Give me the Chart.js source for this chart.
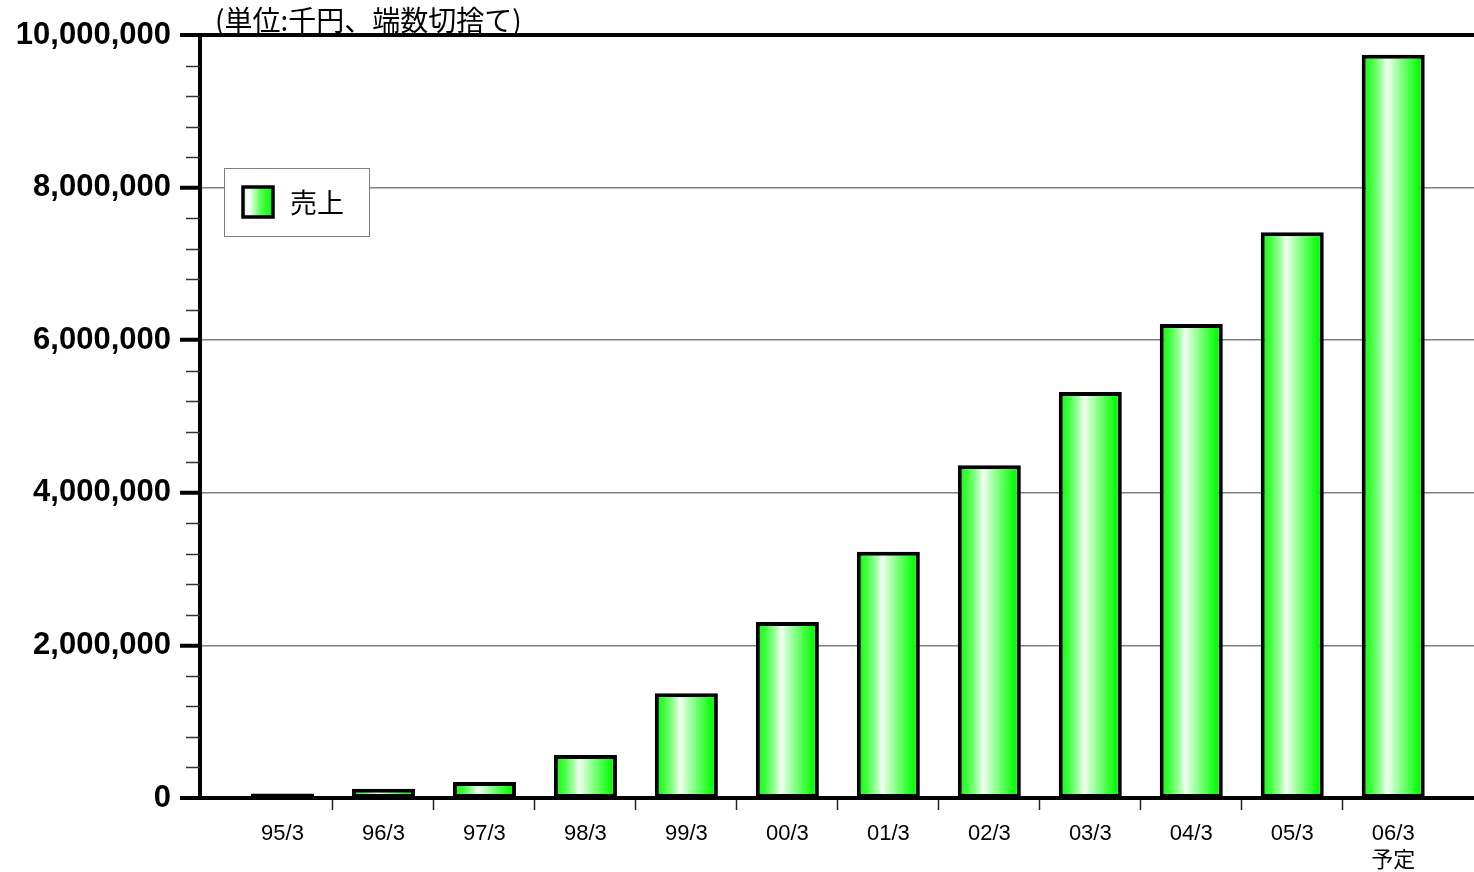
<!DOCTYPE html>
<html>
<head>
<meta charset="utf-8">
<script src="https://cdn.jsdelivr.net/npm/chart.js@4"></script>
<style>
  html, body { margin: 0; padding: 0; background: #fff; }
  #wrap { width: 1474px; height: 872px; position: relative; }
</style>
</head>
<body>
<div id="wrap"><canvas id="salesChart"></canvas></div>
<script>
// data
const categories = ['95/3', '96/3', '97/3', '98/3', '99/3', '00/3', '01/3', '02/3', '03/3', '04/3', '05/3', ['06/3', '予定']];
const sales = [60000, 120000, 210000, 565000, 1372000, 2306000, 3226000, 4361000, 5321000, 6211000, 7415000, 9741000];
const seriesLabel = '売上';
const unitNote = '(単位:千円、端数切捨て)';
const yMax = 10000000;
const majorStep = 2000000;
const minorStep = 400000;

const barPct = 0.624;
const numFont = "'Liberation Sans', Arial, 'Noto Sans CJK JP', sans-serif";
const jpFont = "'Noto Sans CJK JP', 'Liberation Sans', sans-serif";

// green tube look, white highlight a bit left of centre
function tubeGradient(g) {
    g.addColorStop(0, '#00ff00');
    g.addColorStop(0.15, '#3cff3c');
    g.addColorStop(0.32, '#a8ffa8');
    g.addColorStop(0.4, '#f6fff6');
    g.addColorStop(0.5, '#c0ffc0');
    g.addColorStop(0.72, '#58ff58');
    g.addColorStop(0.9, '#08ff08');
    g.addColorStop(1, '#00ff00');
    return g;
}

function barFill(ctx) {
    const chart = ctx.chart;
    const xs = chart.scales.x;
    if (ctx.type !== 'data' || !xs || !chart.chartArea) return '#00ff00';
    const cx = xs.getPixelForValue(ctx.dataIndex);
    const half = (xs.getPixelForValue(1) - xs.getPixelForValue(0)) * barPct / 2;
    return tubeGradient(chart.ctx.createLinearGradient(cx - half, 0, cx + half, 0));
}

// minor y ticks, unit note and the boxed legend inside the plot
const extras = {
    id: 'extras',
    afterDraw(chart) {
        const c = chart.ctx;
        const area = chart.chartArea;
        const ys = chart.scales.y;
        c.save();

        c.strokeStyle = '#333';
        c.lineWidth = 1.5;
        for (let v = minorStep; v < yMax; v += minorStep) {
            if (v % majorStep === 0) continue;
            const py = Math.round(ys.getPixelForValue(v)) + 0.5;
            c.beginPath();
            c.moveTo(area.left - 14, py);
            c.lineTo(area.left, py);
            c.stroke();
        }

        c.fillStyle = '#000';
        c.font = '28px ' + jpFont;
        c.textAlign = 'left';
        c.textBaseline = 'ideographic';
        c.fillText(unitNote, area.left + 15, area.top - 1);

        const bx = area.left + 24, by = area.top + 133, bw = 145, bh = 68;
        c.fillStyle = '#fff';
        c.fillRect(bx, by, bw, bh);
        c.strokeStyle = '#808080';
        c.lineWidth = 1;
        c.strokeRect(bx + 0.5, by + 0.5, bw, bh);

        const sx = bx + 19, sy = by + 19, ss = 30;
        const g = c.createLinearGradient(sx, 0, sx + ss, 0);
        g.addColorStop(0, '#c8ffc8');
        g.addColorStop(0.2, '#ffffff');
        g.addColorStop(0.6, '#50ff50');
        g.addColorStop(1, '#00ff00');
        c.fillStyle = g;
        c.fillRect(sx, sy, ss, ss);
        c.strokeStyle = '#000';
        c.lineWidth = 3.5;
        c.strokeRect(sx, sy, ss, ss);

        c.fillStyle = '#000';
        c.font = '27px ' + jpFont;
        c.textBaseline = 'middle';
        c.fillText(seriesLabel, bx + 66, by + bh / 2 + 1);
        c.restore();
    }
};

// tick marks sit between the categories, labels on them
const xTicks = [];
categories.forEach((cat, i) => {
    xTicks.push({ value: i });
    if (i < categories.length - 1) xTicks.push({ value: i + 0.5 });
});

new Chart(document.getElementById('salesChart'), {
    type: 'bar',
    data: {
        datasets: [{
            label: seriesLabel,
            data: sales.map((v, i) => ({ x: i, y: v })),
            backgroundColor: barFill,
            borderColor: '#000',
            borderWidth: 4,
            borderSkipped: false,
            barPercentage: barPct,
            categoryPercentage: 2   // ruler min is the half-step tick spacing
        }]
    },
    options: {
        responsive: true,
        maintainAspectRatio: false,
        animation: false,
        layout: { padding: { top: 35, right: 0, bottom: 0, left: 0 } },
        plugins: {
            legend: { display: false },
            title: { display: false },
            tooltip: { enabled: false }
        },
        scales: {
            x: {
                type: 'linear',
                offset: false,
                bounds: 'data',
                min: -0.817,
                max: 11.8,
                afterBuildTicks: (scale) => { scale.ticks = xTicks.map(t => ({ value: t.value })); },
                afterFit: (scale) => { scale.height = 74; },
                grid: {
                    offset: false,
                    drawOnChartArea: false,
                    drawTicks: true,
                    tickLength: 12,
                    tickWidth: 1.5,
                    tickColor: (ctx) => (ctx.tick && !Number.isInteger(ctx.tick.value)) ? '#222' : 'rgba(0,0,0,0)'
                },
                border: { display: true, color: '#000', width: 4 },
                ticks: {
                    autoSkip: false,
                    maxRotation: 0,
                    padding: 11,
                    color: '#000',
                    font: { family: numFont, size: 22, lineHeight: 1.2 },
                    callback: (value) => Number.isInteger(value) ? categories[value] : ''
                }
            },
            y: {
                type: 'linear',
                min: 0,
                max: yMax,
                afterFit: (scale) => { scale.width = 200; },
                grid: {
                    color: (ctx) => ctx.tick.value === yMax ? '#000' : '#808080',
                    lineWidth: (ctx) => ctx.tick.value === yMax ? 4 : (ctx.tick.value === 0 ? 0 : 1.5),
                    tickLength: 20,
                    tickWidth: 4,
                    tickColor: '#000'
                },
                border: { display: true, color: '#000', width: 4 },
                ticks: {
                    stepSize: majorStep,
                    padding: 9,
                    color: '#000',
                    font: { family: numFont, size: 31, weight: 'bold' },
                    callback: (value) => value.toLocaleString('en-US')
                }
            }
        }
    },
    plugins: [extras]
});
</script>
</body>
</html>
